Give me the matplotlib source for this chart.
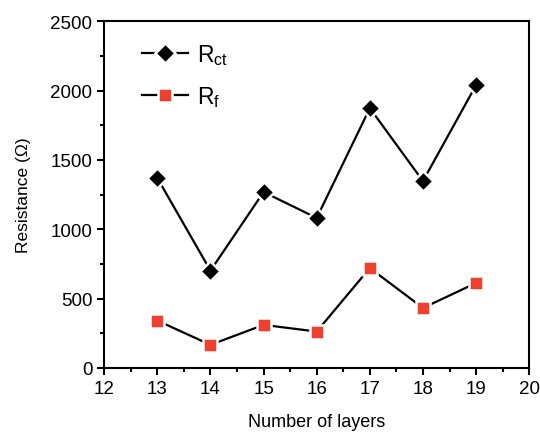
import matplotlib
matplotlib.use('Agg')
import matplotlib.pyplot as plt
from matplotlib.ticker import MultipleLocator

plt.rcParams['font.family'] = ['Liberation Sans', 'DejaVu Sans']
plt.rcParams['mathtext.default'] = 'regular'

layers = [13, 14, 15, 16, 17, 18, 19]
r_ct = [1369, 701, 1268, 1081, 1873, 1347, 2039]
r_f = [341, 166, 310, 262, 720, 432, 612]

fig = plt.figure(figsize=(5.4, 4.35), dpi=100)
ax = fig.add_axes([0.193, 0.152, 0.787, 0.797])

ax.plot(layers, r_ct, color='black', lw=1.6, marker='D', ms=10,
        mfc='black', mec='white', mew=1.8, label='R$_{ct}$')
ax.plot(layers, r_f, color='black', lw=1.6, marker='s', ms=10,
        mfc='#ee4030', mec='white', mew=1.8, label='R$_f$')

ax.set_xlim(12, 20)
ax.set_ylim(0, 2500)
ax.xaxis.set_major_locator(MultipleLocator(1))
ax.xaxis.set_minor_locator(MultipleLocator(0.5))
ax.yaxis.set_major_locator(MultipleLocator(500))
ax.yaxis.set_minor_locator(MultipleLocator(250))
ax.tick_params(which='both', direction='out', width=1.5, labelsize=13.5)
ax.tick_params(which='major', length=5)
ax.tick_params(which='minor', length=3)
for s in ax.spines.values():
    s.set_linewidth(1.5)

ax.set_xlabel('Number of layers', fontsize=13, labelpad=12)
ax.set_ylabel('Resistance (\u03a9)', fontsize=12.5, labelpad=14)

leg = ax.legend(loc='upper left', frameon=False, fontsize=16.5, handlelength=2.0,
                handletextpad=0.4, borderaxespad=0.5,
                bbox_to_anchor=(0.04, 1.0), labelspacing=0.75)

fig.savefig('out.png', dpi=100, facecolor='white')
